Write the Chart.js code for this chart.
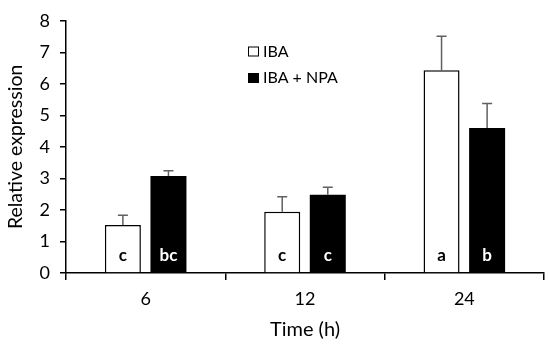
<!DOCTYPE html>
<html><head><meta charset="utf-8">
<script src="https://cdn.jsdelivr.net/npm/chart.js@4"></script>
<style>html,body{margin:0;padding:0;background:#fff}#wrap{width:550px;height:346px}</style>
</head><body><div id="wrap"><canvas id="c"></canvas></div>
<script>
const categories = ['6', '12', '24'];
const ibaValues = [1.52, 1.94, 6.43];
const ibaErrors = [0.31, 0.48, 1.08];
const ibaNpaValues = [3.08, 2.48, 4.60];
const ibaNpaErrors = [0.16, 0.24, 0.78];
const ibaLetters = ['c', 'c', 'a'];
const ibaNpaLetters = ['bc', 'c', 'b'];
const yTicks = [0, 1, 2, 3, 4, 5, 6, 7, 8];
const FONT = "Lato, 'Open Sans', sans-serif";

const extras = {
  id: 'extras',
  afterDatasetsDraw(chart) {
    const ctx = chart.ctx, y = chart.scales.y;
    const errs = [ibaErrors, ibaNpaErrors];
    const letters = [ibaLetters, ibaNpaLetters];
    chart.data.datasets.forEach((ds, di) => {
      const meta = chart.getDatasetMeta(di);
      meta.data.forEach((bar, i) => {
        const top = y.getPixelForValue(ds.data[i] + errs[di][i]);
        ctx.save();
        ctx.strokeStyle = '#606060';
        ctx.lineWidth = 1.5;
        ctx.beginPath();
        ctx.moveTo(bar.x, bar.y);
        ctx.lineTo(bar.x, top);
        ctx.moveTo(bar.x - 5, top);
        ctx.lineTo(bar.x + 5, top);
        ctx.stroke();
        ctx.fillStyle = di === 0 ? '#000' : '#fff';
        ctx.font = "bold 17px " + FONT;
        ctx.textAlign = 'center';
        ctx.textBaseline = 'middle';
        ctx.fillText(letters[di][i], bar.x, y.getPixelForValue(0.55));
        ctx.restore();
      });
    });
    // legend
    ctx.save();
    ctx.font = "16px " + FONT;
    ctx.textBaseline = 'middle';
    chart.data.datasets.forEach((ds, di) => {
      const ly = 51.5 + di * 26.5;
      ctx.fillStyle = di === 0 ? '#fff' : '#000';
      ctx.fillRect(248, ly - 5, 11, 10);
      ctx.strokeStyle = '#000';
      ctx.lineWidth = 1;
      ctx.strokeRect(248.5, ly - 4.5, 10, 9);
      ctx.fillStyle = '#000';
      ctx.fillText(ds.label, 263, ly);
    });
    ctx.restore();
  }
};

new Chart(document.getElementById('c'), {
  type: 'bar',
  data: {
    labels: categories,
    datasets: [
      { label: 'IBA', data: ibaValues, backgroundColor: '#fff', borderColor: '#000', borderWidth: 1.5,
        categoryPercentage: 0.572, barPercentage: 0.79 },
      { label: 'IBA + NPA', data: ibaNpaValues, backgroundColor: '#000', borderColor: '#000', borderWidth: 0,
        categoryPercentage: 0.572, barPercentage: 0.79 }
    ]
  },
  options: {
    responsive: true, maintainAspectRatio: false, animation: false,
    layout: { padding: { top: 16, right: 6, left: 0, bottom: 0 } },
    plugins: { legend: { display: false }, tooltip: { enabled: false } },
    scales: {
      x: {
        offset: true,
        grid: { offset: true, drawOnChartArea: false, tickLength: 7, color: '#000', lineWidth: 1.5 },
        border: { color: '#000', width: 1.5 },
        ticks: { color: '#000', font: { size: 18, family: FONT }, padding: 8 },
        title: { display: true, text: 'Time (h)', color: '#000', font: { size: 20, family: FONT }, padding: { top: 5 } },
        afterFit(s) { s.height = 73; }
      },
      y: {
        min: 0, max: 8,
        afterBuildTicks(s) { s.ticks = yTicks.map(v => ({ value: v })); },
        grid: { drawOnChartArea: false, tickLength: 6, color: '#000', lineWidth: 1.5 },
        border: { color: '#000', width: 1.5 },
        ticks: { color: '#000', font: { size: 18, family: FONT }, padding: 10 },
        title: { display: true, text: 'Relative expression', color: '#000', font: { size: 19.5, family: FONT }, padding: { top: 4, bottom: 4 } },
        afterFit(s) { s.width = 66; }
      }
    }
  },
  plugins: [extras]
});
</script></body></html>
